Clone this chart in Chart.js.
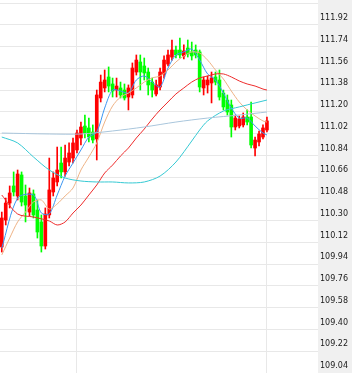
<!DOCTYPE html>
<html>
<head>
<meta charset="utf-8">
<script src="https://cdn.jsdelivr.net/npm/chart.js@4.4.0/dist/chart.umd.min.js"></script>
<style>
  html, body { margin: 0; padding: 0; background: #fff; }
  #wrap { width: 352px; height: 373px; }
</style>
</head>
<body>
<div id="wrap"><canvas id="chart" width="352" height="373"></canvas></div>
<script>
// OHLC per bar, oldest visible bar first
const openPrices = [
  109.901, 110.124, 110.265, 110.406, 110.323, 110.497, 110.323, 110.190, 110.340, 110.207,
  110.108, 109.909, 110.166, 110.356, 110.439, 110.596, 110.522, 110.604, 110.637, 110.704,
  110.803, 110.902, 110.886, 110.852, 110.795, 111.134, 111.217, 111.308, 111.250, 111.200,
  111.217, 111.200, 111.142, 111.159, 111.349, 111.432, 111.399, 111.349, 111.266, 111.167,
  111.225, 111.333, 111.415, 111.473, 111.531, 111.531, 111.482, 111.548, 111.515, 111.531,
  111.515, 111.217, 111.242, 111.258, 111.308, 111.283, 111.175, 111.117, 111.076, 110.894,
  110.902, 110.911, 110.977, 110.977, 110.720, 110.770, 110.811, 110.869
];
const highPrices = [
  110.190, 110.306, 110.406, 110.522, 110.538, 110.522, 110.414, 110.389, 110.373, 110.290,
  110.166, 110.224, 110.637, 110.522, 110.728, 110.728, 110.745, 110.762, 110.803, 110.869,
  110.935, 110.993, 110.968, 110.911, 111.200, 111.324, 111.366, 111.391, 111.299, 111.299,
  111.266, 111.250, 111.242, 111.424, 111.490, 111.490, 111.465, 111.382, 111.299, 111.283,
  111.382, 111.482, 111.531, 111.614, 111.564, 111.630, 111.573, 111.614, 111.597, 111.573,
  111.531, 111.308, 111.316, 111.349, 111.349, 111.366, 111.200, 111.159, 111.117, 110.993,
  110.985, 111.010, 111.035, 111.101, 110.811, 110.861, 110.911, 110.977
];
const lowPrices = [
  109.859, 110.083, 110.224, 110.323, 110.290, 110.240, 110.108, 110.157, 110.141, 109.975,
  109.859, 109.884, 110.141, 110.323, 110.406, 110.472, 110.488, 110.571, 110.596, 110.679,
  110.745, 110.803, 110.770, 110.762, 110.621, 111.101, 111.184, 111.184, 111.142, 111.142,
  111.134, 111.117, 111.035, 111.134, 111.324, 111.200, 111.283, 111.159, 111.142, 111.151,
  111.200, 111.299, 111.399, 111.448, 111.465, 111.465, 111.457, 111.473, 111.448, 111.465,
  111.184, 111.159, 111.175, 111.093, 111.242, 111.117, 111.035, 110.993, 110.811, 110.869,
  110.886, 110.894, 110.911, 110.720, 110.654, 110.737, 110.795, 110.853
];
const closePrices = [
  110.141, 110.265, 110.348, 110.356, 110.505, 110.273, 110.248, 110.348, 110.166, 110.025,
  109.909, 110.174, 110.373, 110.472, 110.538, 110.522, 110.637, 110.679, 110.762, 110.844,
  110.894, 110.844, 110.811, 110.786, 111.159, 111.266, 111.283, 111.233, 111.192, 111.233,
  111.159, 111.134, 111.217, 111.382, 111.448, 111.349, 111.341, 111.242, 111.200, 111.242,
  111.349, 111.448, 111.490, 111.531, 111.490, 111.490, 111.523, 111.498, 111.482, 111.490,
  111.225, 111.283, 111.283, 111.300, 111.266, 111.142, 111.060, 111.018, 110.894, 110.968,
  110.960, 110.977, 110.935, 110.745, 110.786, 110.836, 110.886, 110.944
];

// moving averages, read every few bars: [bar, price]
const maFast = [
  [0, 109.893], [4, 110.306], [8, 110.331], [10, 110.182], [12, 110.174], [14, 110.331],
  [16, 110.488], [18, 110.596], [20, 110.704], [22, 110.811], [24, 110.853], [26, 111.051],
  [28, 111.200], [30, 111.192], [32, 111.175], [34, 111.283], [36, 111.316], [38, 111.266],
  [40, 111.225], [42, 111.382], [44, 111.490], [46, 111.515], [48, 111.539], [50, 111.448],
  [52, 111.333], [54, 111.283], [56, 111.175], [58, 111.051], [60, 110.968], [62, 110.968],
  [64, 110.902], [66, 110.844], [67, 110.828]
];
const maMid = [
  [0, 109.835], [2, 109.975], [4, 110.108], [6, 110.190], [8, 110.273], [10, 110.290],
  [12, 110.215], [14, 110.257], [16, 110.323], [18, 110.389], [20, 110.538], [22, 110.646],
  [24, 110.762], [26, 110.935], [28, 111.068], [30, 111.142], [32, 111.175], [34, 111.217],
  [36, 111.266], [38, 111.300], [40, 111.316], [42, 111.366], [44, 111.432], [46, 111.482],
  [48, 111.515], [50, 111.506], [52, 111.448], [54, 111.366], [56, 111.291], [58, 111.192],
  [60, 111.101], [62, 111.035], [64, 110.985], [66, 110.944], [67, 110.935]
];
const maSlow = [
  [0, 110.331], [4, 110.174], [8, 110.149], [12, 110.116], [14, 110.083], [16, 110.108],
  [18, 110.182], [20, 110.248], [22, 110.331], [24, 110.414], [26, 110.513], [28, 110.579],
  [30, 110.654], [32, 110.720], [34, 110.803], [36, 110.877], [38, 110.960], [40, 111.035],
  [42, 111.101], [44, 111.167], [46, 111.217], [48, 111.266], [50, 111.300], [52, 111.316],
  [54, 111.333], [56, 111.333], [58, 111.308], [60, 111.275], [62, 111.250], [64, 111.233],
  [66, 111.208], [67, 111.200]
];
const maLong = [
  [0, 110.811], [4, 110.762], [8, 110.646], [12, 110.538], [16, 110.472], [20, 110.447],
  [24, 110.439], [28, 110.439], [32, 110.431], [36, 110.439], [40, 110.488], [44, 110.604],
  [48, 110.778], [50, 110.869], [52, 110.944], [56, 111.026], [60, 111.060], [64, 111.093],
  [67, 111.117]
];
const maVeryLong = [
  [0, 110.844], [12, 110.836], [20, 110.836], [28, 110.861], [36, 110.894], [44, 110.935],
  [52, 110.968], [60, 110.993], [67, 111.018]
];

const priceTicks = [111.92, 111.74, 111.56, 111.38, 111.20, 111.02, 110.84, 110.66, 110.48,
  110.30, 110.12, 109.94, 109.76, 109.58, 109.40, 109.22, 109.04];
const sessionStarts = [19, 67];

const UP = '#ff0000';
const DOWN = '#00ff00';
const GRID = '#e8e8e8';

const bars = openPrices.map((_, i) => i);
const candleColors = bars.map(i => closePrices[i] > openPrices[i] ? UP : DOWN);

function maLine(points, color) {
  return {
    type: 'line',
    data: points.map(([x, y]) => ({ x, y })),
    borderColor: color,
    borderWidth: 1,
    pointRadius: 0,
    tension: 0.3,
    spanGaps: true,
    order: 0
  };
}

// no extra room around the plot: chart area runs edge to edge
function noPadding(axis) {
  axis.paddingTop = 0;
  axis.paddingBottom = 0;
  axis.paddingLeft = 0;
  axis.paddingRight = 0;
}

// grey price panel on the right
const pricePanel = {
  id: 'pricePanel',
  beforeDraw(chart) {
    const { ctx, chartArea, width, height } = chart;
    ctx.save();
    ctx.fillStyle = '#f0f0f0';
    ctx.fillRect(chartArea.right, 0, width - chartArea.right, height);
    ctx.restore();
  }
};

new Chart(document.getElementById('chart'), {
  type: 'bar',
  data: {
    datasets: [
      maLine(maVeryLong, '#a9c6dc'),
      maLine(maLong, '#35c9d3'),
      maLine(maSlow, '#ee2b2b'),
      maLine(maMid, '#eeb285'),
      maLine(maFast, '#3b96f2'),
      {
        data: bars.map(i => ({ x: i, y: [openPrices[i], closePrices[i]] })),
        backgroundColor: candleColors,
        barThickness: 3,
        grouped: false,
        order: 5
      },
      {
        data: bars.map(i => ({ x: i, y: [lowPrices[i], highPrices[i]] })),
        backgroundColor: candleColors,
        barThickness: 1,
        grouped: false,
        order: 6
      }
    ]
  },
  options: {
    responsive: false,
    animation: false,
    layout: { padding: 0 },
    plugins: {
      legend: { display: false },
      tooltip: { enabled: false }
    },
    scales: {
      x: {
        type: 'linear',
        offset: false,
        min: -0.45,
        max: 79.9,
        ticks: { display: false, padding: 0 },
        grid: { color: GRID, drawTicks: false, offset: false },
        border: { display: false },
        afterBuildTicks: axis => { axis.ticks = sessionStarts.map(v => ({ value: v })); },
        afterFit: axis => { axis.height = 0; noPadding(axis); }
      },
      y: {
        position: 'right',
        min: 108.858,
        max: 111.945,
        grid: { color: GRID, drawTicks: false },
        border: { display: false },
        ticks: {
          padding: 2,
          labelOffset: 15,
          color: '#1a1a1a',
          font: { family: 'DejaVu Sans', size: 8 },
          callback: v => v.toFixed(2)
        },
        afterBuildTicks: axis => { axis.ticks = priceTicks.map(v => ({ value: v })); },
        afterFit: axis => { axis.width = 34; noPadding(axis); }
      }
    }
  },
  plugins: [pricePanel]
});
</script>
</body>
</html>
